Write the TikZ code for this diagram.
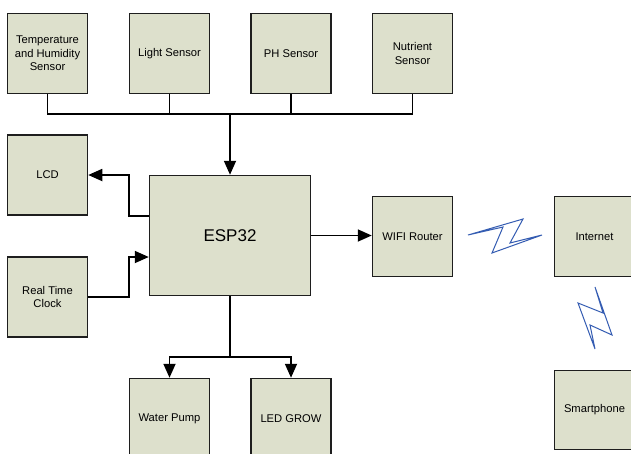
\documentclass[tikz,border=0pt]{standalone}
\usepackage{fontspec}
\setmainfont{Liberation Sans}
\usetikzlibrary{arrows.meta}

\definecolor{boxfill}{RGB}{221,224,204}
\definecolor{boxline}{RGB}{30,30,30}
\definecolor{boltblue}{RGB}{52,92,178}

\tikzset{
  block/.style={draw=boxline, line width=1.5pt, fill=boxfill, align=center,
                minimum width=80pt, minimum height=80pt, inner sep=2pt,
                font=\fontsize{11.2}{13.5}\selectfont},
  wire/.style={black, line width=1.8pt},
  flow/.style={wire, -{Triangle[length=14pt, width=12pt]}},
  bolt/.style={boltblue, line width=1pt, fill=white, line join=miter}
}

\begin{document}
\begin{tikzpicture}[x=1pt, y=1pt]
\useasboundingbox (0,0) rectangle (631,-453);

%% ---- Sensors (y=[-13,-94]) ----
\node[block] (temp)  at (47.5,-53.5)  {Temperature\\and Humidity\\Sensor};
\node[block] (light) at (169.5,-53.5) {Light Sensor};
\node[block] (ph)    at (291,-53.5)   {PH Sensor};
\node[block] (nutr)  at (412.5,-53.5) {Nutrient\\Sensor};

%% ---- Controller and side blocks ----
\node[block, minimum width=161pt, minimum height=120pt,
      font=\fontsize{17}{20}\selectfont] (esp) at (230,-235.5) {ESP32};
\node[block] (lcd)    at (47.5,-175)   {LCD};
\node[block] (rtc)    at (47.5,-297)   {Real Time\\Clock};
\node[block] (router) at (412.5,-236.5) {WIFI Router};
\node[block] (inet)   at (594.5,-236.5) {Internet};
\node[block, minimum height=79pt] (phone) at (594.5,-410) {Smartphone};

%% ---- Actuators (cut by the page bottom) ----
\node[block] (pump) at (169.5,-418.5) {Water Pump};
\node[block] (grow) at (291,-418.5)   {LED GROW};

%% ---- Sensor bus ----
\coordinate (bus) at (230,-114);
\draw[wire] (temp.south) -- ++(0,-20) -| (nutr.south);
\draw[wire] (light.south) -- ++(0,-20);
\draw[wire] (ph.south) -- ++(0,-20);
\draw[flow] (bus) -- (esp.north);

%% ---- LCD and clock ----
\draw[flow] ([yshift=19.5]esp.west) -- ++(-20,0) |- (lcd.east);
\draw[flow] (rtc.east) -- ++(41,0) |- ([yshift=-21.5]esp.west);

%% ---- Outputs ----
\draw[wire] (esp.south) -- ++(0,-61) coordinate (split);
\draw[flow] (split) -| (pump.north);
\draw[flow] (split) -| (grow.north);
\draw[flow] (esp.east) -- (esp.east -| router.west);

%% ---- Wireless links ----
\draw[bolt] (468,-235) -- (503,-227) -- (492,-253) -- (542,-235)
    -- (510,-243) -- (523,-219) -- cycle;
\draw[bolt] (595,-287) -- (603,-313) -- (578,-303) -- (595,-349)
    -- (590,-325) -- (612,-335) -- cycle;

\end{tikzpicture}
\end{document}
